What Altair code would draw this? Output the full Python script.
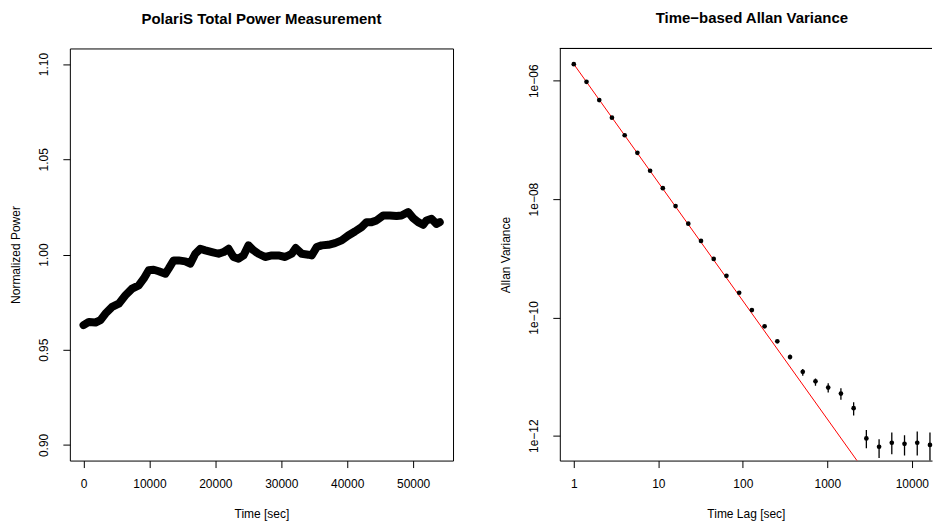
import altair as alt
import pandas as pd

# ---------------- Left panel: total power time series ----------------
time_sec = [0, 807, 1817, 2573, 3330, 4340, 5349, 6358, 7367, 8376, 9133, 9890,
            10647, 11404, 12413, 12918, 13675, 14432, 15441, 16198, 16955, 17711,
            18468, 19478, 20487, 21244, 22000, 22757, 23514, 24271, 25028, 25785,
            26542, 27551, 28560, 29570, 30579, 31588, 32194, 33102, 34111, 34616,
            35373, 36130, 37138, 38148, 39157, 40166, 41175, 42185, 42942, 43699,
            44456, 45464, 46474, 47483, 48240, 49249, 50006, 50763, 51520, 52025,
            52782, 53539, 54043]
power = [0.9629, 0.9646, 0.9643, 0.9655, 0.9690, 0.9725, 0.9742, 0.9786, 0.9821,
         0.9838, 0.9873, 0.9917, 0.9920, 0.9912, 0.9899, 0.9926, 0.9969, 0.9969,
         0.9964, 0.9952, 1.0004, 1.0030, 1.0022, 1.0013, 1.0004, 1.0013, 1.0030,
         0.9987, 0.9978, 0.9995, 1.0048, 1.0022, 1.0004, 0.9987, 0.9995, 0.9995,
         0.9987, 1.0004, 1.0034, 1.0004, 0.9999, 0.9995, 1.0039, 1.0048, 1.0051,
         1.0060, 1.0074, 1.0100, 1.0121, 1.0144, 1.0170, 1.0170, 1.0179, 1.0205,
         1.0205, 1.0202, 1.0205, 1.0223, 1.0191, 1.0170, 1.0156, 1.0179, 1.0188,
         1.0161, 1.0170]

# ---------------- Right panel: Allan variance ----------------
lag_sec = [1, 1.414, 2, 2.828, 4, 5.657, 8, 11.31, 16, 22.63, 32, 45.25, 64,
           90.51, 128, 181.0, 256, 362.0, 512, 724.1, 1024, 1448, 2048, 2896,
           4096, 5793, 8192, 11585, 16384]
allan_var = [1.91e-6, 9.6e-7, 4.72e-7, 2.38e-7, 1.20e-7, 6.04e-8, 3.01e-8,
             1.53e-8, 7.62e-9, 3.84e-9, 1.96e-9, 9.75e-10, 5.04e-10, 2.61e-10,
             1.33e-10, 7.05e-11, 3.94e-11, 2.14e-11, 1.20e-11, 8.3e-12, 6.5e-12,
             5.15e-12, 2.92e-12, 9.0e-13, 6.5e-13, 7.6e-13, 7.3e-13, 7.6e-13,
             7.0e-13]
err_lo = [1.91e-6, 9.6e-7, 4.72e-7, 2.38e-7, 1.20e-7, 6.04e-8, 3.01e-8,
          1.53e-8, 7.62e-9, 3.84e-9, 1.96e-9, 9.75e-10, 5.04e-10, 2.61e-10,
          1.33e-10, 7.05e-11, 3.94e-11, 1.95e-11, 1.035e-11, 7.0e-12, 5.35e-12,
          4.07e-12, 2.19e-12, 6.15e-13, 4.18e-13, 4.88e-13, 4.63e-13, 4.63e-13,
          3.57e-13]
err_hi = [1.91e-6, 9.6e-7, 4.72e-7, 2.38e-7, 1.20e-7, 6.04e-8, 3.01e-8,
          1.53e-8, 7.62e-9, 3.84e-9, 1.96e-9, 9.75e-10, 5.04e-10, 2.61e-10,
          1.33e-10, 7.05e-11, 3.94e-11, 2.35e-11, 1.34e-11, 9.3e-12, 7.67e-12,
          6.32e-12, 3.67e-12, 1.25e-12, 8.73e-13, 1.13e-12, 1.02e-12, 1.175e-12,
          1.13e-12]
fit_lag = [1, 17320]
fit_var = [1.91e-6, 6.37e-15]

FONT = "Liberation Sans"

ts = pd.DataFrame({"time": time_sec, "power": power})
av = pd.DataFrame({"lag": lag_sec, "avar": allan_var, "lo": err_lo, "hi": err_hi})
fit = pd.DataFrame({"lag": fit_lag, "avar": fit_var})

axis_common = dict(grid=False, tickColor="black", tickSize=7, tickWidth=1,
                   labelColor="black", labelFontSize=12, labelFont=FONT,
                   titleColor="black", titleFontSize=12, titleFont=FONT,
                   titleFontWeight="normal", domainColor="black", domainWidth=1)

xaxis_l = alt.Axis(values=[0, 10000, 20000, 30000, 40000, 50000], format="d",
                   labelPadding=11, titlePadding=19, domain=False, **axis_common)
yaxis_l = alt.Axis(values=[0.90, 0.95, 1.00, 1.05, 1.10], format=".2f",
                   labelAngle=270, labelAlign="center", labelBaseline="bottom",
                   labelPadding=12, titlePadding=15.5, domain=False, **axis_common)

left = alt.Chart(ts).mark_line(color="black", strokeWidth=8,
                               strokeJoin="round", strokeCap="round").encode(
    x=alt.X("time:Q", title="Time [sec]", axis=xaxis_l,
            scale=alt.Scale(domain=[-2074, 56055], nice=False, zero=False)),
    y=alt.Y("power:Q", title="Normalized Power", axis=yaxis_l,
            scale=alt.Scale(domain=[0.8918, 1.1082], nice=False, zero=False)),
).properties(
    width=384, height=413,
    title=alt.TitleParams("PolariS Total Power Measurement", font=FONT,
                          fontSize=15, fontWeight="bold", color="black",
                          offset=22, anchor="middle"),
)

RW = 373
xs = alt.Scale(type="log", domain=[0.683, 17320], nice=False)
ys = alt.Scale(type="log", domain=[3.80e-13, 3.516e-6], nice=False)

xaxis_r = alt.Axis(values=[1, 10, 100, 1000, 10000], format="d",
                   labelPadding=11, titlePadding=19, domain=True, **axis_common)
yaxis_r = alt.Axis(values=[1e-12, 1e-10, 1e-8, 1e-6],
                   labelExpr="-round(log(datum.value)/LN10) < 10 ? '1e\u22120' + toString(-round(log(datum.value)/LN10)) : '1e\u2212' + toString(-round(log(datum.value)/LN10))",
                   labelAngle=270, labelAlign="center", labelBaseline="bottom",
                   labelPadding=12, titlePadding=15.5, domain=True, **axis_common)

line = alt.Chart(fit).mark_line(color="red", strokeWidth=1, clip=True).encode(
    x=alt.X("lag:Q", scale=xs, axis=xaxis_r, title="Time Lag [sec]"),
    y=alt.Y("avar:Q", scale=ys, axis=yaxis_r, title="Allan Variance"),
)
bars = alt.Chart(av).mark_rule(color="black", strokeWidth=1.3, clip=True).encode(
    x=alt.X("lag:Q", scale=xs),
    y=alt.Y("lo:Q", scale=ys),
    y2="hi:Q",
)
pts = alt.Chart(av).mark_circle(color="black", size=22, opacity=1).encode(
    x=alt.X("lag:Q", scale=xs),
    y=alt.Y("avar:Q", scale=ys),
)
topline = alt.Chart(fit).mark_rule(color="black", strokeWidth=1).encode(
    x=alt.value(0), x2=alt.value(RW), y=alt.value(0)
)

right = alt.layer(line, bars, pts, topline).properties(
    width=RW, height=413,
    view=alt.ViewBackground(stroke="transparent"),
    title=alt.TitleParams("Time\u2212based Allan Variance", font=FONT,
                          fontSize=15, fontWeight="bold", color="black",
                          offset=22, anchor="middle", dx=6),
)

chart = alt.hconcat(left, right, spacing=45).properties(
    padding={"left": 8, "top": 10, "right": 0, "bottom": 0},
    background="white",
).configure_view(stroke="black", strokeWidth=1)

chart.save("out.html", embed_options={"renderer": "svg", "actions": False})
